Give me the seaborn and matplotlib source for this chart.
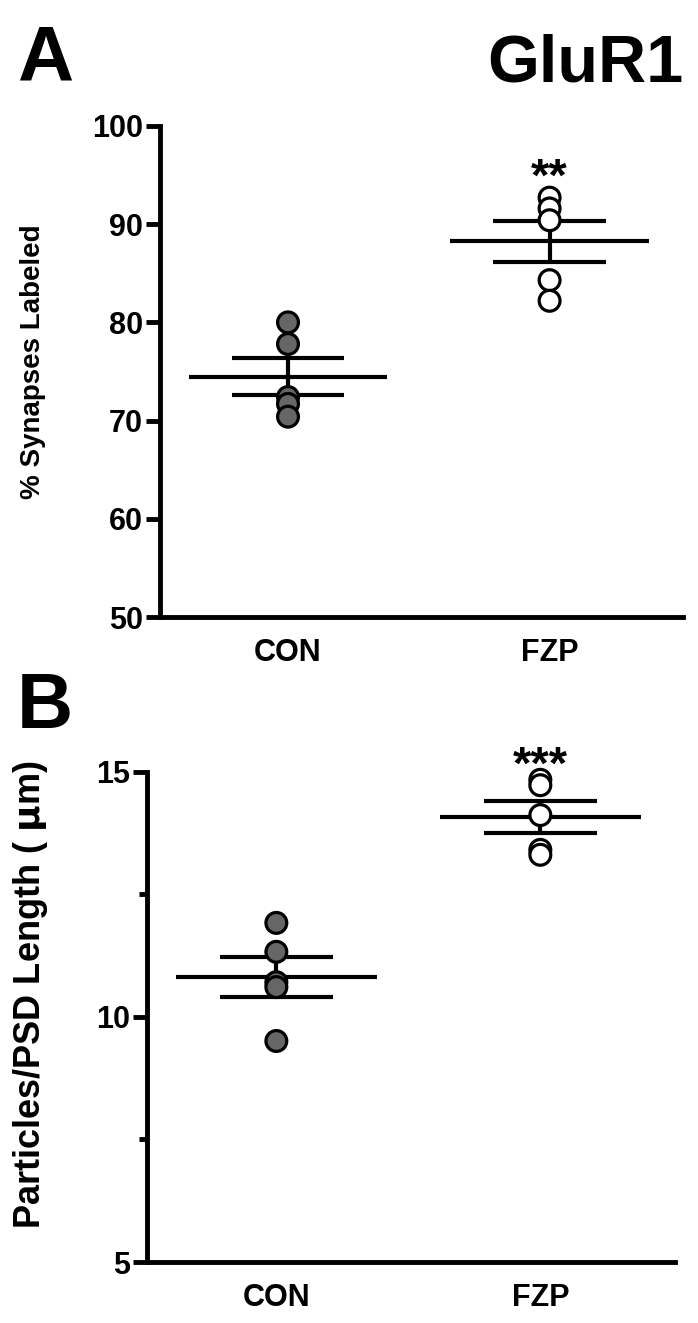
import numpy as np
import pandas as pd
import seaborn as sns
import matplotlib.pyplot as plt
from matplotlib.ticker import MultipleLocator, FixedLocator

# values
groups = ["CON", "FZP"]
synapses_con = [80.0, 77.8, 72.4, 71.7, 70.4]
synapses_fzp = [92.7, 91.6, 90.4, 84.3, 82.2]
particles_con = [11.92, 11.33, 10.71, 10.61, 9.51]
particles_fzp = [14.84, 14.73, 14.12, 13.41, 13.31]
stars_top = "**"
stars_bottom = "***"

sns.set_style("ticks")
plt.rcParams['font.family'] = ['Liberation Sans', 'DejaVu Sans']
plt.rcParams['font.weight'] = 'bold'
plt.rcParams['mathtext.default'] = 'regular'
plt.rcParams['text.color'] = 'black'
plt.rcParams['axes.labelcolor'] = 'black'
plt.rcParams['xtick.color'] = 'black'
plt.rcParams['ytick.color'] = 'black'
plt.rcParams['axes.edgecolor'] = 'black'

fig = plt.figure(figsize=(6.98, 13.23), dpi=100)
ax1 = fig.add_axes([0.229, 0.5336, 0.7495, 0.3712])
ax2 = fig.add_axes([0.2106, 0.0461, 0.7564, 0.3704])


def make_df(con, fzp):
    return pd.DataFrame({
        "group": ["CON"] * len(con) + ["FZP"] * len(fzp),
        "value": list(con) + list(fzp),
    })


def draw_panel(ax, df, ylim, label, stars, star_y, label_size):
    # mean and SEM lines
    for i, g in enumerate(groups):
        v = df.loc[df.group == g, "value"].to_numpy()
        m = v.mean()
        se = v.std(ddof=1) / np.sqrt(len(v))
        ax.hlines(m, i - 0.38, i + 0.38, color="black", lw=3, zorder=2)
        ax.hlines([m - se, m + se], i - 0.215, i + 0.215, color="black", lw=3, zorder=2)
        ax.vlines(i, m - se, m + se, color="black", lw=3, zorder=2)
    sns.stripplot(data=df, x="group", y="value", order=groups, hue="group",
                  palette={"CON": "#666666", "FZP": "white"}, jitter=False,
                  size=15, linewidth=2.3, edgecolor="black", legend=False,
                  ax=ax, zorder=3)
    for c in ax.collections:
        c.set_zorder(3)
        c.set_clip_on(False)
    ax.set_xlim(-0.49, 1.51)
    ax.set_ylim(*ylim)
    ax.set_xlabel("")
    ax.set_ylabel(label, fontsize=label_size, fontweight="bold")
    sns.despine(ax=ax)
    for s in ["left", "bottom"]:
        ax.spines[s].set_linewidth(3.5)
    ax.tick_params(axis="y", length=10, width=3.5, pad=2, labelsize=22)
    ax.tick_params(axis="x", length=0, pad=15, labelsize=22)
    for t in ax.get_xticklabels() + ax.get_yticklabels():
        t.set_fontweight("bold")
    ax.text(1, star_y, stars, ha="center", va="center", fontsize=34,
            fontweight="bold", clip_on=False)


draw_panel(ax1, make_df(synapses_con, synapses_fzp), (50, 100),
           "% Synapses Labeled", stars_top, 94.6, 20)
ax1.yaxis.set_major_locator(MultipleLocator(10))
ax1.yaxis.set_label_coords(-0.218, 0.52)

draw_panel(ax2, make_df(particles_con, particles_fzp), (5, 15),
           r"Particles/PSD Length ( $\mathbf{\mu}$m)", stars_bottom, 15.1, 26)
ax2.yaxis.set_major_locator(FixedLocator([5, 10, 15]))
ax2.yaxis.set_minor_locator(FixedLocator([7.5, 12.5]))
ax2.tick_params(axis="y", which="minor", length=6, width=3.5)
ax2.yaxis.set_label_coords(-0.184, 0.545)

fig.text(0.024, 1 - 80 / 1323, "A", fontsize=56, fontweight="bold", ha="left", va="baseline")
fig.text(0.024, 1 - 728 / 1323, "B", fontsize=56, fontweight="bold", ha="left", va="baseline")
fig.text(683 / 698, 1 - 82 / 1323, "GluR1", fontsize=48, fontweight="bold", ha="right", va="baseline")

fig.savefig("out.png", dpi=100, facecolor="white")
